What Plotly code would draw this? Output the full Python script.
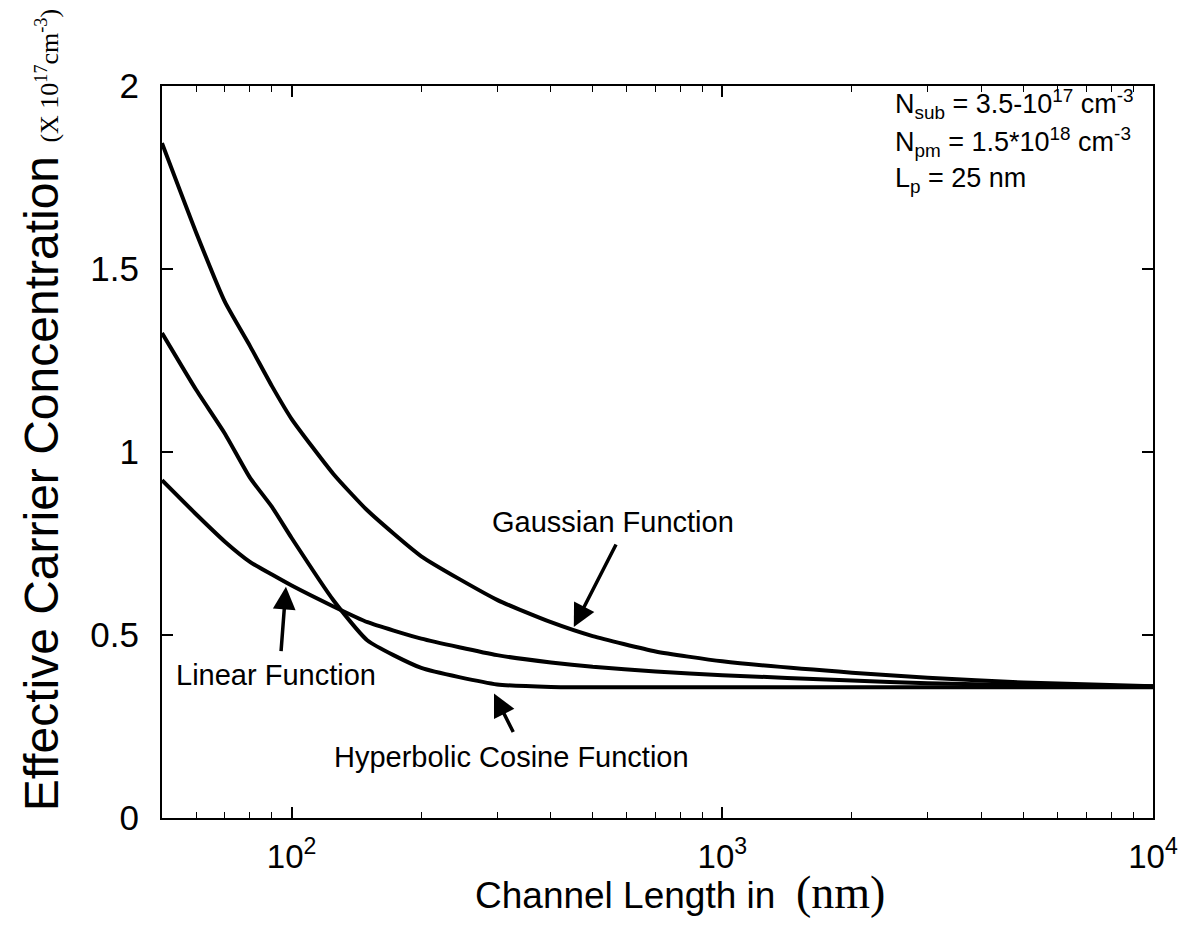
import plotly.graph_objects as go
import numpy as np

# Channel length (nm)
length_nm = [50, 60, 70, 80, 90, 100, 125, 150, 200, 300, 400, 500, 700, 1000, 2000, 3000, 5000, 10000]

# Effective carrier concentration (x 1e17 cm^-3)
gaussian = [1.844, 1.60, 1.41, 1.29, 1.18, 1.09, 0.94, 0.84, 0.715, 0.596, 0.535, 0.497, 0.455, 0.428, 0.397, 0.383, 0.37, 0.36]
linear = [0.923, 0.83, 0.755, 0.70, 0.665, 0.635, 0.578, 0.535, 0.49, 0.445, 0.425, 0.413, 0.40, 0.39, 0.376, 0.368, 0.363, 0.36]
hyperbolic = [1.325, 1.17, 1.05, 0.93, 0.85, 0.765, 0.595, 0.485, 0.41, 0.365, 0.358, 0.357, 0.357, 0.357, 0.357, 0.357, 0.357, 0.357]

x_ticks = [100, 1000, 10000]
x_tick_text = ["10<sup>2</sup>", "10<sup>3</sup>", "10<sup>4</sup>"]
y_ticks = [0, 0.5, 1, 1.5, 2]
y_tick_text = ["0", "0.5", "1", "1.5", "2"]
minor_x = [m * d for d in (10, 100, 1000) for m in range(2, 10) if 50 <= m * d <= 10000]

SANS = "Arial, Liberation Sans, sans-serif"
SERIF_STYLE = "font-family:Times New Roman, Liberation Serif, serif"

fig = go.Figure()
for ys in (gaussian, linear, hyperbolic):
    fig.add_trace(go.Scatter(x=length_nm, y=ys, mode="lines",
                             line=dict(color="black", width=4, shape="spline", smoothing=0.5),
                             showlegend=False))

fig.update_layout(
    width=1197, height=929,
    margin=dict(l=162, r=44, t=86, b=111),
    plot_bgcolor="white", paper_bgcolor="white",
    font=dict(family=SANS, color="black"),
)
fig.update_xaxes(
    type="log", range=[np.log10(50), 4],
    tickmode="array", tickvals=x_ticks, ticktext=x_tick_text,
    ticks="inside", ticklen=11, tickwidth=1.5, tickcolor="black",
    showline=True, linecolor="black", linewidth=2, mirror="ticks",
    showgrid=False, zeroline=False, ticklabelstandoff=8,
    tickfont=dict(size=33, family=SANS),
    minor=dict(tickmode="array", tickvals=minor_x, ticks="inside", ticklen=6,
               tickcolor="black", tickwidth=1.2, showgrid=False),
)
fig.update_yaxes(
    range=[0, 2], tickmode="array", tickvals=y_ticks, ticktext=y_tick_text,
    ticks="inside", ticklen=11, tickwidth=1.5, tickcolor="black",
    showline=True, linecolor="black", linewidth=2, mirror="ticks",
    showgrid=False, zeroline=False, ticklabelstandoff=14,
    tickfont=dict(size=35, family=SANS),
)

ann = []
# axis titles
ann.append(dict(xref="paper", yref="paper", x=0.523, y=-0.102, xanchor="center", yanchor="middle",
                text=f"Channel Length in  <span style='{SERIF_STYLE}; font-size:46px'>(nm)</span>",
                showarrow=False, font=dict(size=37, family=SANS)))
ann.append(dict(xref="paper", yref="paper", x=-0.122, y=0.557, xanchor="center", yanchor="middle", textangle=-90,
                text=f"Effective Carrier Concentration <span style='{SERIF_STYLE}; font-size:26px'>(X 10<sup>17</sup>cm<sup>-3</sup>)</span>",
                showarrow=False, font=dict(size=48, family=SANS)))
# curve labels
lab = dict(xref="paper", yref="paper", xanchor="center", yanchor="middle", showarrow=False, font=dict(size=29))
ann.append(dict(x=0.455, y=0.404, text="Gaussian Function", **lab))
ann.append(dict(x=0.115, y=0.195, text="Linear Function", **lab))
ann.append(dict(x=0.353, y=0.083, text="Hyperbolic Cosine Function", **lab))
# arrows
arrow_style = dict(showarrow=True, arrowhead=2, arrowsize=1.3, arrowwidth=3.5, arrowcolor="black", text="",
                   xref="x", yref="y", axref="pixel", ayref="pixel")
ann.append(dict(x=np.log10(452), y=0.522, ax=43, ay=-84, **arrow_style))
ann.append(dict(x=np.log10(97), y=0.632, ax=-5, ay=66, **arrow_style))
ann.append(dict(x=np.log10(295), y=0.34, ax=20, ay=40, **arrow_style))
# parameter text
params = ["N<sub>sub</sub> = 3.5-10<sup>17</sup> cm<sup>-3</sup>",
          "N<sub>pm</sub> = 1.5*10<sup>18</sup> cm<sup>-3</sup>",
          "L<sub>p</sub> = 25 nm"]
for i, t in enumerate(params):
    ann.append(dict(xref="paper", yref="paper", x=0.738, y=0.975 - i * 0.052, xanchor="left", yanchor="middle",
                    text=t, showarrow=False, font=dict(size=27)))
fig.update_layout(annotations=ann)

fig.write_html("out.html")
